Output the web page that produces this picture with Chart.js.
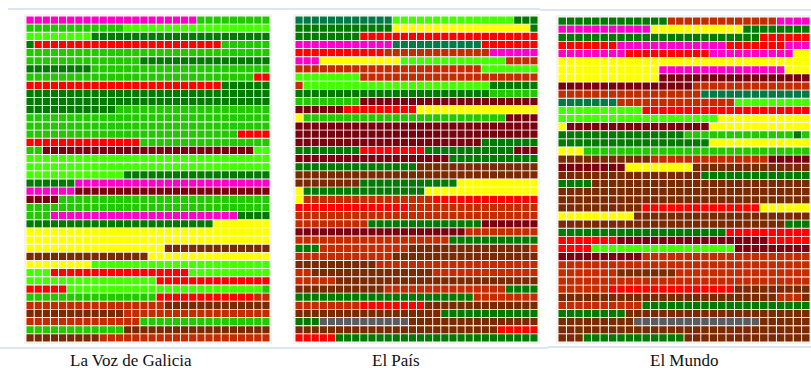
<!DOCTYPE html>
<html>
<head>
<meta charset="utf-8">
<script src="https://cdn.jsdelivr.net/npm/chart.js@4"></script>
<style>
  html, body { margin: 0; padding: 0; background: #fff; width: 811px; height: 368px; overflow: hidden; }
  .panel { position: absolute; background: #f3f3f3; padding: 2px; }
  .panel canvas { display: block; filter: blur(0.45px); }
  .rule { position: absolute; height: 2px; background: #dce6f2; }
  .caption { position: absolute; top: 351px; font: 17px "Liberation Serif", serif; color: #111; white-space: nowrap; }
</style>
</head>
<body>
<div class="rule" style="left:8px;top:8px;width:532px"></div>
<div class="rule" style="left:540px;top:9px;width:271px"></div>
<div class="rule" style="left:0;top:347px;width:548px"></div>
<div class="rule" style="left:548px;top:346px;width:263px"></div>

<div class="panel" style="left:24px;top:14px"><canvas id="voz" width="244" height="326"></canvas></div>
<div class="panel" style="left:293px;top:14px"><canvas id="pais" width="243" height="326"></canvas></div>
<div class="panel" style="left:556px;top:15px"><canvas id="mundo" width="252" height="325"></canvas></div>

<div class="caption" style="left:70px">La Voz de Galicia</div>
<div class="caption" style="left:372px">El País</div>
<div class="caption" style="left:650px">El Mundo</div>

<script>
// colour of each cell class
const cellColors = {
  m: '#ff00c8', G: '#007a00', g: '#22c800', l: '#44ff00', r: '#ff0000',
  d: '#7a0010', b: '#7a2a00', o: '#c42c00', y: '#ffff00', t: '#007a48', s: '#5c5c60'
};

// one line per row, letter + how many cells in a run (30 cells a row)
const vozRows = [
  'm21 g9', 'g12 l18', 'l8 G22', 'G1 r23 g6', 'g30', 'g14 G16', 'G8 g22', 'g28 r2', 'r24 G6', 'G30',
  'G30', 'G11 g19', 'g30', 'g30', 'g26 r4', 'r14 g16', 'g2 d26 l2', 'l30', 'l30', 'l12 G18',
  'G6 m24', 'm6 d24', 'd4 g26', 'g30', 'g3 m23 G4', 'G23 y7', 'y30', 'y30', 'y17 b13', 'b15 y15',
  'y8 l22', 'l3 r17 l10', 'l16 r14', 'r5 l24 g1', 'g16 r12 o2', 'o17 b13', 'b12 o18', 'o14 g16', 'g12 b18', 'b9 o21'
];
const paisRows = [
  't12 l15 G3', 'G12 y17 G1', 'G8 r22', 'm12 t11 r7', 'r11 o13 m6', 'm3 y10 l13 o4', 'o23 l7', 'l8 o22', 'o1 l23 G6', 'G24 g6',
  'g8 d22', 'd6 r9 y15', 'y1 g25 d4', 'd30', 'd30', 'd23 G7', 'G8 r8 G11 d3', 'd19 G11', 'G15 b15', 'b30',
  'b8 G12 y10', 'y1 G15 y14', 'y1 o16 r13', 'r14 o16', 'o30', 'o9 G14 d7', 'd21 o9', 'o19 G11', 'G3 o11 b15 o1', 'o12 b18',
  'b10 o20', 'o2 b15 o13', 'o5 b25', 'b11 o15 G4', 'G22 o8', 'o8 r8 b14', 'b18 G12', 'G3 s11 b16', 'b25 r5', 'r5 G25'
];
const mundoRows = [
  'G13 o13 m4', 'm11 y11 G8', 'G24 r6', 'r7 m13 r7 m3', 'm8 r10 m10 y2', 'y30', 'y12 m15 y3', 'y12 d18', 'd16 o14', 'o17 t13',
  't7 o14 l9', 'l10 r20', 'l19 y11', 'y1 d17 y12', 'G15 g13 G1 g1', 'G18 y12', 'y3 g27', 'b11 o14 d5', 'd8 y8 b14', 'b17 G13',
  'G4 b26', 'b30', 'b30', 'b10 r14 y6', 'y9 b21', 'b27 G3', 'G20 r10', 'r7 d18 r5', 'r4 l17 d9', 'd10 o20',
  'o30', 'o7 b7 o16', 'o30', 'o6 r15 b9', 'b26 o3 b1', 'o10 G20', 'G8 b22', 'b9 s15 b6', 'b30', 'b3 G12 b15'
];

function expandRow(row) {
  let cells = [];
  row.split(' ').forEach(run => {
    const count = parseInt(run.slice(1));
    for (let i = 0; i < count; i++) cells.push(run[0]);
  });
  return cells;
}

function drawPanel(canvasId, rows) {
  const grid = rows.map(expandRow);

  // each column is a dataset, stacked gives the cells in a row
  const datasets = [];
  for (let col = 0; col < 30; col++) {
    datasets.push({
      data: grid.map(() => 1),
      backgroundColor: grid.map(cells => cellColors[cells[col]]),
      borderColor: '#ffffff',
      borderWidth: 0.8,
      borderSkipped: false,
      barPercentage: 1,
      categoryPercentage: 1
    });
  }

  new Chart(document.getElementById(canvasId), {
    type: 'bar',
    data: { labels: rows.map((_, i) => i + 1), datasets: datasets },
    options: {
      indexAxis: 'y',
      responsive: false,
      animation: false,
      layout: { padding: 0 },
      plugins: { legend: { display: false }, tooltip: { enabled: false } },
      scales: {
        x: { stacked: true, display: false, min: 0, max: 30 },
        y: { stacked: true, display: false }
      }
    }
  });
}

drawPanel('voz', vozRows);
drawPanel('pais', paisRows);
drawPanel('mundo', mundoRows);
</script>
</body>
</html>
